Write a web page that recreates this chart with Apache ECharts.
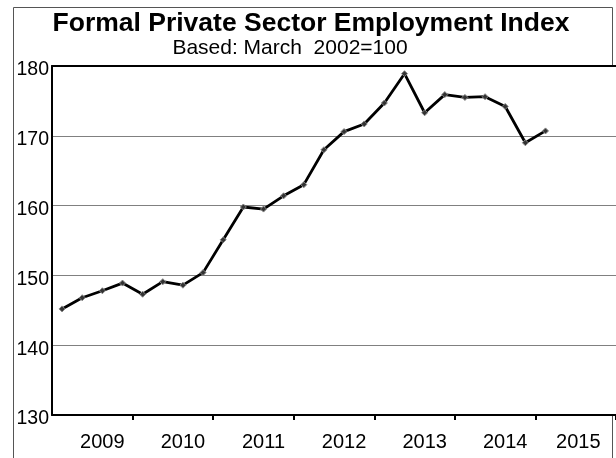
<!DOCTYPE html>
<html>
<head>
<meta charset="utf-8">
<script src="https://cdn.jsdelivr.net/npm/echarts@6/dist/echarts.min.js"></script>
<style>
html,body{margin:0;padding:0;background:#fff;}
#chart{width:616px;height:458px;}
</style>
</head>
<body>
<div id="chart"></div>
<script>
// Tick labels (years) and quarters
const years = ['2009', '2010', '2011', '2012', '2013', '2014', '2015'];
const quarters = ['Q1', 'Q2', 'Q3', 'Q4'];
// Quarterly index values, 2009 Q1 .. 2015 Q1
const indexValues = [
  145.2, 146.8, 147.8, 148.9,
  147.3, 149.1, 148.6, 150.4,
  155.1, 159.8, 159.5, 161.4,
  163.0, 168.0, 170.6, 171.7,
  174.7, 178.9, 173.3, 175.9,
  175.5, 175.6, 174.2, 169.0,
  170.7
];
const yTicks = [130, 140, 150, 160, 170, 180];
const titleText = 'Formal Private Sector Employment Index';
const subtitleText = 'Based: March  2002=100';

const categories = [];
years.forEach(y => quarters.forEach(q => categories.push(y + ' ' + q)));

const chart = echarts.init(document.getElementById('chart'));
const FONT = '"Liberation Sans", Arial, sans-serif';
const frameStyle = { stroke: '#555', lineWidth: 1 };

chart.setOption({
  animation: false,
  backgroundColor: '#fff',
  graphic: [
    { type: 'line', silent: true, shape: { x1: 13.5, y1: 7.5, x2: 13.5, y2: 460 }, style: frameStyle },
    { type: 'line', silent: true, shape: { x1: 13.5, y1: 7.5, x2: 612.5, y2: 7.5 }, style: frameStyle },
    { type: 'line', silent: true, shape: { x1: 612.5, y1: 7.5, x2: 612.5, y2: 66 }, style: frameStyle },
    { type: 'line', silent: true, shape: { x1: 612.5, y1: 415, x2: 612.5, y2: 460 }, style: frameStyle },
    {
      type: 'text', x: 311, y: 10,
      style: {
        text: titleText, align: 'center', verticalAlign: 'top',
        font: 'bold 26.5px ' + FONT, fill: '#000'
      }
    },
    {
      type: 'text', x: 290, y: 38,
      style: {
        text: subtitleText, align: 'center', verticalAlign: 'top',
        font: '21px ' + FONT, fill: '#000'
      }
    }
  ],
  grid: {
    left: 52, right: 0, top: 66, bottom: 43,
    show: true, backgroundColor: '#fff', borderWidth: 0
  },
  xAxis: [
    {
      type: 'category',
      data: categories,
      boundaryGap: true,
      axisLine: { lineStyle: { color: '#000', width: 2 } },
      axisTick: {
        show: true, inside: false, length: 5,
        lineStyle: { color: '#000', width: 2 },
        interval: function (i) { return i % 4 === 0 && i > 0; }
      },
      axisLabel: {
        interval: function (i) { return i % 4 === 2; },
        formatter: function (v) {
          const y = v.split(' ')[0];
          return y === years[years.length - 1] ? '{last|' + y + '}' : y;
        },
        rich: { last: { fontSize: 20, fontFamily: FONT, color: '#000', padding: [0, 15, 0, 0] } },
        color: '#000', fontFamily: FONT, fontSize: 20, margin: 17
      },
      splitLine: { show: false }
    },
    {
      type: 'category',
      position: 'top',
      data: categories,
      axisLine: { lineStyle: { color: '#000', width: 2 } },
      axisTick: { show: false },
      axisLabel: { show: false },
      splitLine: { show: false }
    }
  ],
  yAxis: {
    type: 'value',
    min: yTicks[0], max: yTicks[yTicks.length - 1], interval: 10,
    axisLine: { show: true, lineStyle: { color: '#000', width: 2 } },
    axisTick: { show: false },
    axisLabel: {
      color: '#000', fontFamily: FONT, fontSize: 19.5, margin: 3,
      verticalAlign: 'top', lineHeight: 8
    },
    splitLine: { show: true, lineStyle: { color: '#808080', width: 1 } }
  },
  series: [{
    type: 'line',
    data: indexValues,
    lineStyle: { color: '#000', width: 2.8 },
    symbol: 'diamond',
    symbolSize: 6,
    showAllSymbol: true,
    itemStyle: { color: '#333', borderColor: '#888', borderWidth: 1 }
  }]
});
</script>
</body>
</html>
